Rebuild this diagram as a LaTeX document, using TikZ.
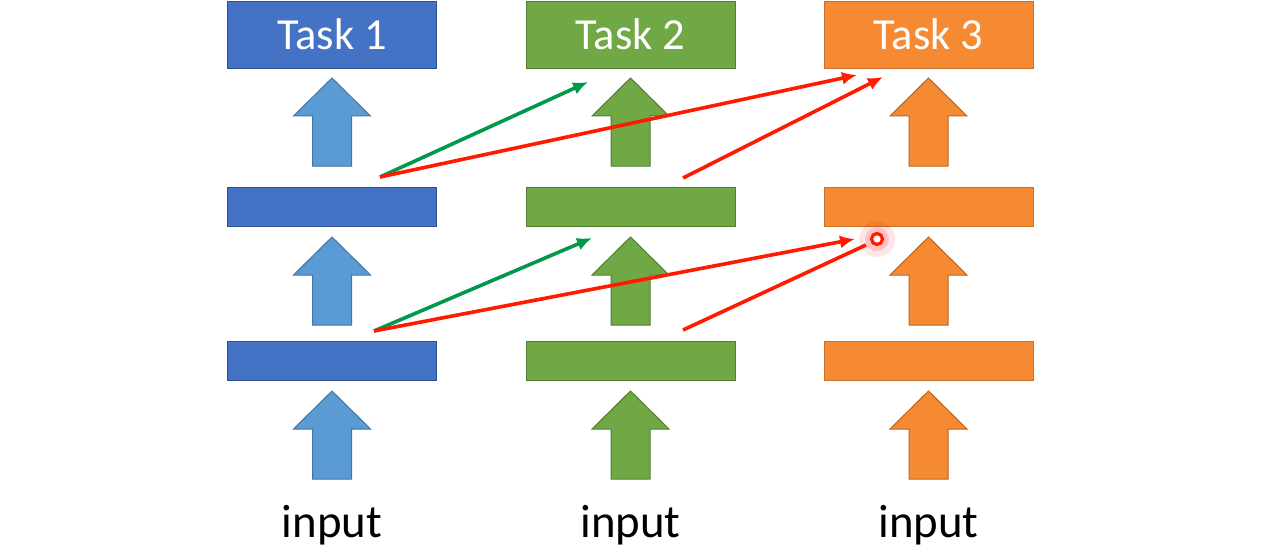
\documentclass[tikz,border=0pt]{standalone}
\usepackage{fontspec}
\setmainfont{Carlito}
\usetikzlibrary{arrows.meta}
\definecolor{bbox}{HTML}{4472C4}
\definecolor{bboxd}{HTML}{2F528F}
\definecolor{barr}{HTML}{5B9BD5}
\definecolor{barrd}{HTML}{41719C}
\definecolor{gbox}{HTML}{70A845}
\definecolor{gboxd}{HTML}{507E32}
\definecolor{oboxc}{HTML}{F58A32}
\definecolor{oboxd}{HTML}{C8702A}
\definecolor{lgreen}{HTML}{00994C}
\definecolor{lred}{HTML}{FF1A00}
\newcommand\myuparrow[3]{%
  \draw[fill=#3, draw=#3!75!black, line width=0.5pt]
    (#1-19.5,#2+88) -- (#1-19.5,#2+38) -- (#1-38.5,#2+38) -- (#1,#2)
    -- (#1+38.5,#2+38) -- (#1+19.5,#2+38) -- (#1+19.5,#2+88) -- cycle;}
\begin{document}
\begin{tikzpicture}[x=0.5pt,y=-0.5pt,
  taskbox/.style={minimum width=104.5pt, minimum height=33.5pt, inner sep=0pt, line width=0.5pt},
  barbox/.style={minimum width=104.5pt, minimum height=19.5pt, inner sep=0pt, line width=0.5pt},
  tasklabel/.style={text=white, font=\fontsize{22.2pt}{26pt}\selectfont, anchor=base, inner sep=0pt},
  inlabel/.style={text=black, font=\fontsize{23.4pt}{28pt}\selectfont, anchor=base, inner sep=0pt},
  link/.style={line width=1.8pt, -{Latex[length=7.5pt,width=6.5pt]}},
  linkplain/.style={line width=1.8pt}
]
\useasboundingbox (0,0) rectangle (1274,556);
\fill[white] (0,0) rectangle (1274,556);

% boxes
\node[taskbox, fill=bbox, draw=bboxd] (t1) at (332,35.5) {};
\node[taskbox, fill=gbox, draw=gboxd] (t2) at (630.5,35.5) {};
\node[taskbox, fill=oboxc, draw=oboxd] (t3) at (928.5,35.5) {};
\node[tasklabel] (l1) at (332,50) {Task 1};
\node[tasklabel] (l2) at (630.5,50) {Task 2};
\node[tasklabel] (l3) at (928.5,50) {Task 3};

\node[barbox, fill=bbox, draw=bboxd] (a1) at (332,206.5) {};
\node[barbox, fill=gbox, draw=gboxd] (a2) at (630.5,206.5) {};
\node[barbox, fill=oboxc, draw=oboxd] (a3) at (928.5,206.5) {};
\node[barbox, fill=bbox, draw=bboxd] (b1) at (332,361) {};
\node[barbox, fill=gbox, draw=gboxd] (b2) at (630.5,361) {};
\node[barbox, fill=oboxc, draw=oboxd] (b3) at (928.5,361) {};

% block arrows
\myuparrow{332}{78}{barr}
\myuparrow{630.5}{78}{gbox}
\myuparrow{928.5}{78}{oboxc}
\myuparrow{332}{237}{barr}
\myuparrow{630.5}{237}{gbox}
\myuparrow{928.5}{237}{oboxc}
\myuparrow{332}{391}{barr}
\myuparrow{630.5}{391}{gbox}
\myuparrow{928.5}{391}{oboxc}

% inputs
\node[inlabel] (i1) at (332,537) {input};
\node[inlabel] (i2) at (630.5,537) {input};
\node[inlabel] (i3) at (928.5,537) {input};

% connector endpoints
\coordinate (s1) at (380,177);
\coordinate (s2) at (683,178);
\coordinate (g1) at (588,82);
\coordinate (r1) at (857,75);
\coordinate (r2) at (883,77);
\coordinate (s3) at (374,331);
\coordinate (s4) at (683,330);
\coordinate (g2) at (592,238);
\coordinate (r3) at (855,239);
\coordinate (r4) at (866,245);
\coordinate (dot) at (877,239);

\draw[link, lgreen] (s1) -- (g1);
\draw[link, lred] (s1) -- (r1);
\draw[link, lred] (s2) -- (r2);
\draw[link, lgreen] (s3) -- (g2);
\draw[link, lred] (s3) -- (r3);
\draw[linkplain, lred] (s4) -- (r4);

% laser pointer dot
\fill[red, opacity=0.10] (dot) circle (18);
\fill[red, opacity=0.15] (dot) circle (12);
\draw[lred, line width=1.6pt, fill=white] (dot) circle (5.5);
\end{tikzpicture}
\end{document}
